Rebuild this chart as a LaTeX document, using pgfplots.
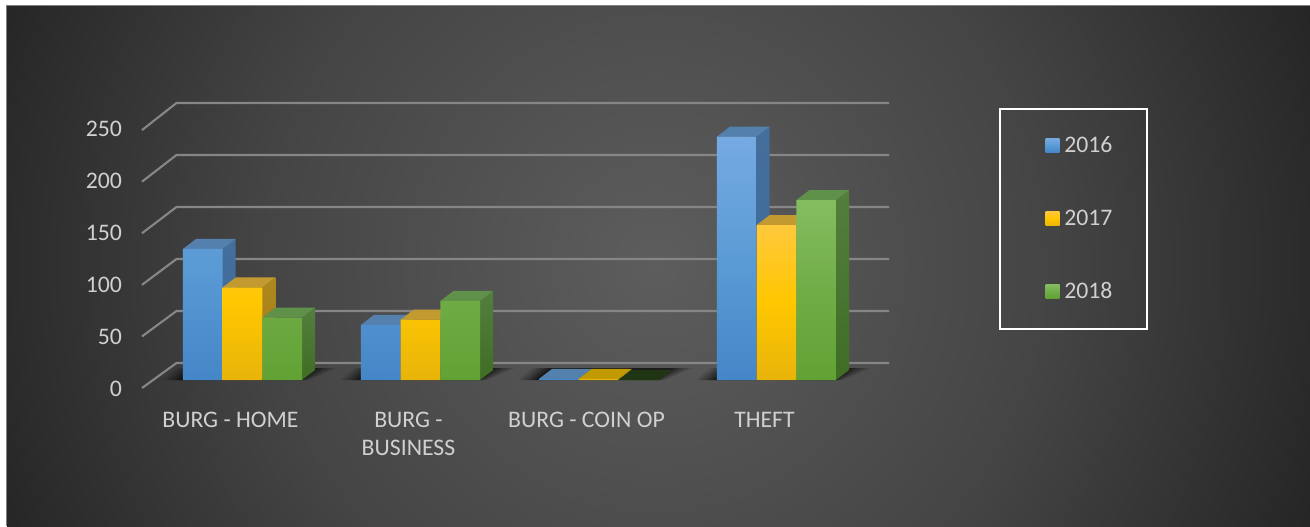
\documentclass[border=0pt]{standalone}
\usepackage{pgfplots}
\pgfplotsset{compat=1.18}
\usepackage{fontspec}
\setmainfont{Carlito}
\definecolor{txt}{HTML}{D0D0D0}
\definecolor{gridc}{HTML}{868686}
\definecolor{bT}{HTML}{76AAE2}\definecolor{bM}{HTML}{5B9BD5}\definecolor{bB}{HTML}{4586C8}
\definecolor{yT}{HTML}{FFC83C}\definecolor{yM}{HTML}{FFC700}\definecolor{yB}{HTML}{E8B40A}
\definecolor{gT}{HTML}{84BD60}\definecolor{gM}{HTML}{70AD47}\definecolor{gB}{HTML}{62A234}
\definecolor{bTop}{HTML}{5480AE}\definecolor{bS}{HTML}{446E9C}\definecolor{bS2}{HTML}{3F6A98}
\definecolor{yTop}{HTML}{C29A30}\definecolor{yS}{HTML}{AE881F}\definecolor{yS2}{HTML}{A27E14}
\definecolor{gTop}{HTML}{5F914A}\definecolor{gS}{HTML}{537F3D}\definecolor{gS2}{HTML}{3F6D24}
\definecolor{yTopZ}{HTML}{C09A00}\definecolor{gTopZ}{HTML}{1F3513}
\definecolor{bg0}{HTML}{5D5D5D}\definecolor{bg1}{HTML}{4D4D4D}\definecolor{bg2}{HTML}{444444}\definecolor{bg3}{HTML}{262626}
\pgfdeclareradialshading{bgshade}{\pgfpointorigin}{%
 color(0bp)=(bg0);color(8.1bp)=(bg1);color(12.5bp)=(bg2);color(21.9bp)=(bg3);color(100bp)=(bg3)}
% side and top faces of a bar: centre x, value, side colours, top colour
\newcommand{\sidetop}[5]{%
 \pgfmathsetmacro{\xl}{#1-0.1115}\pgfmathsetmacro{\xr}{#1+0.1115}%
 \pgfmathsetmacro{\xld}{\xl+0.07303}\pgfmathsetmacro{\xrd}{\xr+0.07303}%
 \pgfmathsetmacro{\vd}{#2+9.615}%
 \addplot[forget plot,mark=none,draw=none,top color=#3,bottom color=#4] coordinates {(\xr,0) (\xrd,9.615) (\xrd,\vd) (\xr,#2)};
 \addplot[forget plot,mark=none,draw=none,fill=#5] coordinates {(\xl,#2) (\xr,#2) (\xrd,\vd) (\xld,\vd)};
}
\newcommand{\gridl}[1]{%
 \pgfmathsetmacro{\vb}{#1+16.35}\pgfmathsetmacro{\vf}{#1*0.992-7.7}%
 \addplot[forget plot,mark=none,color=gridc,line width=1.6pt] coordinates {(-0.5646,\vf) (-0.3708,\vb) (3.632,\vb)};
}
\newcommand{\shadowpoly}[6]{%
 \fill[black,opacity=#6] (axis cs:{#1+#2/178},0) -- (axis cs:{#1+#3/178},0) -- (axis cs:{#1+#5/178},11.5) -- (axis cs:{#1+#4/178},11.5) -- cycle;
}
\newcommand{\shadowat}[1]{%
 \shadowpoly{#1}{-80}{66}{-66}{94}{0.10}%
 \shadowpoly{#1}{-76}{64}{-62}{90}{0.14}%
 \shadowpoly{#1}{-72}{62}{-58}{85}{0.18}%
 \shadowpoly{#1}{-68}{60}{-54}{80}{0.24}%
 \shadowpoly{#1}{-64}{60}{-50}{75}{0.30}%
}
\begin{document}
\begin{tikzpicture}[x=0.75pt,y=0.75pt]
\useasboundingbox (0,0) rectangle (1310,526);
\fill[white] (0,0) rectangle (1310,526);
\begin{scope}
\clip (7,0) rectangle (1310,520);
\shade[shading=bgshade,overlay] (655,263) circle (800);
\end{scope}
\draw[color=gray,line width=0.75pt,overlay] (6.5,0) -- (6.5,520) -- (1310,520);
\begin{axis}[
 at={(106.5pt,109.5pt)},anchor=south west,
 scale only axis,width=560.25pt,height=195pt,
 xmin=-0.5646,xmax=3.632,ymin=0,ymax=250,
 clip=false,
 axis line style={draw=none},
 major tick length=0pt,
 tick style={draw=none},
 xtick={0,1,2,3},
 xticklabels={BURG - HOME,{BURG -\\BUSINESS},BURG - COIN OP,THEFT},
 ytick={0,50,100,150,200,250},
 /pgf/number format/assume math mode=true,
 ticklabel style={text=txt,font=\fontsize{17.8}{21}\selectfont},
 xticklabel style={align=center,xshift=-9pt,yshift=-20.75pt},
 yticklabel style={anchor=east,xshift=-11.5pt,yshift=-6.6pt},
 legend style={at={(1.1472,1.0462)},anchor=north west,draw=white,line width=1.5pt,fill=none,
  text=txt,font=\fontsize{17.8}{21}\selectfont,row sep=37.5pt,inner xsep=23.75pt,inner ysep=18.75pt},
 legend cell align=left,
 legend image code/.code={\fill[#1,draw=none] (0pt,-5pt) rectangle (10.5pt,5.5pt);\path (-10.5pt,0pt) -- (12pt,0pt);},
]
\gridl{0}\gridl{50}\gridl{100}\gridl{150}\gridl{200}\gridl{250}
\shadowat{0}\shadowat{1}\shadowat{2}\shadowat{3}
% 2016
\sidetop{-0.223}{126}{bS}{bS2}{bTop}
\sidetop{0.777}{53}{bS}{bS2}{bTop}
\sidetop{1.777}{1}{bS}{bS2}{bTop}
\sidetop{2.777}{234}{bS}{bS2}{bTop}
\addplot[ybar,bar width=29.775pt,bar shift=-29.775pt,draw=none,top color=bT,bottom color=bB,middle color=bM] coordinates {(0,126) (1,53) (2,1) (3,234)};
\addlegendentry{2016}
% 2017
\sidetop{0}{89}{yS}{yS2}{yTop}
\sidetop{1}{58}{yS}{yS2}{yTop}
\sidetop{2}{1}{yS}{yS2}{yTopZ}
\sidetop{3}{149}{yS}{yS2}{yTop}
\addplot[ybar,bar width=29.775pt,bar shift=0pt,draw=none,top color=yT,bottom color=yB,middle color=yM] coordinates {(0,89) (1,58) (2,1) (3,149)};
\addlegendentry{2017}
% 2018
\sidetop{0.223}{60}{gS}{gS2}{gTop}
\sidetop{1.223}{76}{gS}{gS2}{gTop}
\sidetop{2.223}{0}{gS}{gS2}{gTopZ}
\sidetop{3.223}{173}{gS}{gS2}{gTop}
\addplot[ybar,bar width=29.775pt,bar shift=29.775pt,draw=none,top color=gT,bottom color=gB,middle color=gM] coordinates {(0,60) (1,76) (2,0) (3,173)};
\addlegendentry{2018}
\end{axis}
\end{tikzpicture}
\end{document}
